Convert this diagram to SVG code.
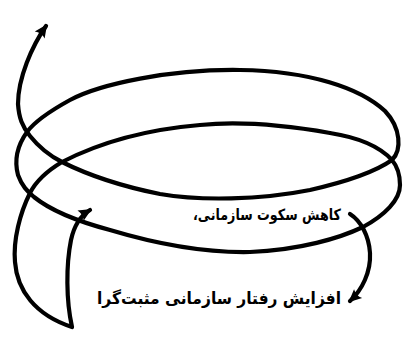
<svg xmlns="http://www.w3.org/2000/svg" width="413" height="349" viewBox="0 0 413 349">
<style>
.ln{fill:none;stroke:#000;stroke-width:4.2;stroke-linecap:round;stroke-linejoin:round}
.lbl{font-family:"DejaVu Sans","Noto Sans",sans-serif;font-weight:bold;fill:#000;text-anchor:middle;direction:rtl}
</style>
<defs>
<marker id="ah" markerUnits="userSpaceOnUse" markerWidth="18" markerHeight="16" viewBox="-14 -8 18 16" refX="0" refY="0" orient="auto-start-reverse">
<path d="M2,0 L-11,-6 Q-8,0 -11,6 Z" fill="#000"/>
</marker>
</defs>
<rect width="413" height="349" fill="#fff"/>
<g id="connectors">
<path id="spiral" class="ln" marker-start="url(#ah)" marker-end="url(#ah)" d="M 46,26
C 32,46 18,78 18,104
C 19,118 22,126 30,136
C 38,146 48,155 62,162
C 90,176 120,186 160,194
C 200,201 260,200 310,190
C 345,182 375,172 392,160
C 402,150 401,128 385,111
C 360,88 310,71 240,70
C 170,69 100,84 70,100
C 50,111 35,121 27,132
C 17,146 14,160 18,175
C 22,186 27,191 34,197
C 50,210 80,222 110,230
C 150,242 200,253 250,252
C 300,250 340,238 363,227
C 385,215 400,200 400,185
C 400,173 397,166 392,160
C 382,149 362,138 330,133
C 290,126 240,121 200,125
C 140,130 95,145 62,162
C 47,171 36,181 30,193
C 20,213 13,240 15,262
C 17,290 35,315 72,327
C 66,300 66,265 71,240
C 74,226 80,216 90,210"/>
<path id="right-arrow" class="ln" marker-end="url(#ah)" d="M 350,214 C 361,221 369,236 370,253 C 371,272 362,290 350,301"/>
</g>
<g id="node-silence">
<text class="lbl" direction="rtl" transform="scale(0.82,1)" x="325.6" y="220" font-size="15.5">کاهش سکوت سازمانی،</text>
</g>
<g id="node-positive">
<text class="lbl" direction="rtl" transform="scale(0.94,1)" x="233" y="304" font-size="16.5">افزایش رفتار سازمانی مثبت‌گرا</text>
</g>
</svg>
